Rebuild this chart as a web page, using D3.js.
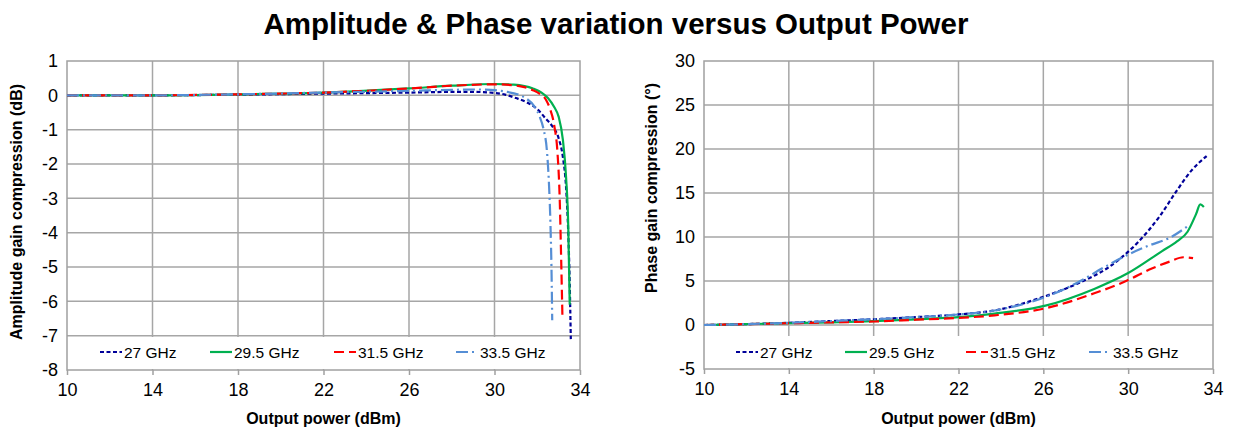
<!DOCTYPE html>
<html><head><meta charset="utf-8">
<script src="https://cdn.jsdelivr.net/npm/d3@7"></script>
<style>
body{margin:0;background:#fff;}
text{font-family:"Liberation Sans",Arial,sans-serif;}
</style></head>
<body><svg id="c" width="1233" height="430"></svg>
<script>
// ---------- data ----------
const title = "Amplitude & Phase variation versus Output Power";
const xTicks = [10,14,18,22,26,30,34];
const ampTicks = [1,0,-1,-2,-3,-4,-5,-6,-7,-8];
const phaseTicks = [30,25,20,15,10,5,0,-5];
const seriesNames = ["27 GHz","29.5 GHz","31.5 GHz","33.5 GHz"];

const amp27_x = [10,14,18,22,26,28,29,30,30.5,31,31.5,32,32.4,32.7,33,33.2,33.35,33.45,33.52,33.57];
const amp27_y = [0,0,0.02,0.05,0.08,0.1,0.1,0.07,0.02,-0.08,-0.2,-0.4,-0.68,-0.9,-1.25,-1.8,-2.7,-4,-5.5,-7.1];
const amp29_x = [10,14,18,22,26,28,30,30.9,31.8,32.2,32.5,32.8,33,33.2,33.35,33.45,33.52];
const amp29_y = [0,0,0.03,0.08,0.2,0.28,0.33,0.31,0.2,0.08,-0.08,-0.35,-0.62,-1.3,-2.4,-3.8,-6.1];
const amp31_x = [10,14,18,22,26,28,30,30.8,31.4,31.8,32.1,32.4,32.6,32.8,32.95,33.05,33.12,33.18];
const amp31_y = [0,0,0.03,0.08,0.2,0.28,0.32,0.3,0.24,0.15,0.05,-0.12,-0.4,-0.9,-1.7,-3,-4.8,-6.5];
const amp33_x = [10,14,18,22,26,28,29.3,30.6,31.5,31.9,32.1,32.3,32.45,32.55,32.62,32.67,32.7];
const amp33_y = [0,0,0.03,0.08,0.13,0.16,0.17,0.1,-0.1,-0.35,-0.6,-1.0,-1.6,-2.6,-3.8,-5.2,-6.55];

const ph27_x = [10,12,14,16,18,20,22,23.7,26,27.6,29.1,30.5,31.5,32.3,33,33.7];
const ph27_y = [0,0.1,0.25,0.45,0.65,0.9,1.2,1.65,3.2,4.7,6.6,9.5,12.4,15.3,17.6,19.2];
const ph29_x = [10,12,14,16,18,20,22,23.7,26.1,28.4,30,31.6,32.3,32.8,33.2,33.4,33.57];
const ph29_y = [0,0.1,0.2,0.3,0.45,0.65,0.9,1.3,2.2,4.1,5.9,8.4,9.5,10.6,12.6,13.7,13.4];
const ph31_x = [10,12,14,16,18,20,22,23.7,26.1,28.4,30,31,31.95,32.6,33.06];
const ph31_y = [0,0.1,0.2,0.3,0.4,0.6,0.8,1.1,1.9,3.6,5.1,6.3,7.2,7.7,7.6];
const ph33_x = [10,12,14,16,18,20,22,23.7,26,27.6,28.9,30,31,31.95,32.82];
const ph33_y = [0,0.1,0.25,0.45,0.65,0.9,1.2,1.65,3.1,4.8,6.6,8.0,9.05,9.9,11.25];

// ---------- styles ----------
const colors = ["#000099","#00B050","#FF0000","#558ED5"];
const dashes = ["4,2.5","none","10,5","12,4,2,4"];

const svg = d3.select("#c");
const FONT = "'Liberation Sans',Arial,sans-serif";

svg.append("text").attr("x",616).attr("y",34).attr("text-anchor","middle")
  .attr("font-size",29.5).attr("font-weight","bold").attr("fill","#000").text(title);

function zip(xs,ys){return xs.map((x,i)=>[x,ys[i]]);}

function panel(cfg){
  const x = d3.scaleLinear().domain([10,34]).range([cfg.l,cfg.r]);
  const y = d3.scaleLinear().domain(cfg.ydom).range([cfg.b,cfg.t]);
  const g = svg.append("g");
  // gridlines
  g.selectAll(".vg").data(xTicks.slice(1,-1)).join("line")
    .attr("x1",d=>x(d)).attr("x2",d=>x(d)).attr("y1",cfg.t).attr("y2",cfg.b)
    .attr("stroke","#a6a6a6").attr("stroke-width",1.5);
  g.selectAll(".hg").data(cfg.yticks.slice(1,-1)).join("line")
    .attr("x1",cfg.l).attr("x2",cfg.r).attr("y1",d=>y(d)).attr("y2",d=>y(d))
    .attr("stroke","#a6a6a6").attr("stroke-width",1.5);
  // legend background
  g.append("rect").attr("x",cfg.l+1).attr("y",cfg.legTop).attr("width",cfg.r-cfg.l-2)
    .attr("height",cfg.b-cfg.legTop-1).attr("fill","#fff");
  // axes
  const fmt = d=>String(d);
  const xa = g.append("g").attr("transform",`translate(0,${cfg.b})`)
    .call(d3.axisBottom(x).tickValues(xTicks).tickFormat(fmt).tickSize(5).tickSizeOuter(0).tickPadding(8));
  xa.select(".domain").remove();
  xa.selectAll("line").attr("stroke","#a0a0a0").attr("stroke-width",1.5);
  xa.selectAll("text").attr("font-size",18).attr("font-family",FONT).attr("fill","#000");
  const ya = g.append("g").attr("transform",`translate(${cfg.l},0)`)
    .call(d3.axisLeft(y).tickValues(cfg.yticks).tickFormat(fmt).tickSize(0).tickPadding(9));
  ya.select(".domain").remove();
  ya.selectAll("text").attr("font-size",18).attr("font-family",FONT).attr("fill","#000");
  // border
  g.append("rect").attr("x",cfg.l).attr("y",cfg.t).attr("width",cfg.r-cfg.l).attr("height",cfg.b-cfg.t)
    .attr("fill","none").attr("stroke","#a0a0a0").attr("stroke-width",1.5);
  // series
  const line = d3.line().x(d=>x(d[0])).y(d=>y(d[1])).curve(d3.curveMonotoneX);
  cfg.series.forEach((s,i)=>{
    g.append("path").datum(s).attr("d",line).attr("fill","none")
      .attr("stroke",colors[i]).attr("stroke-width",2.2)
      .attr("stroke-dasharray",dashes[i]==="none"?null:dashes[i]);
  });
  // legend
  cfg.legX.forEach((lx,i)=>{
    g.append("line").attr("x1",lx).attr("x2",lx+22).attr("y1",cfg.legY).attr("y2",cfg.legY)
      .attr("stroke",colors[i]).attr("stroke-width",2.2)
      .attr("stroke-dasharray",dashes[i]==="none"?null:dashes[i]);
    g.append("text").attr("x",lx+24).attr("y",cfg.legY+5.5).attr("font-size",15.5)
      .attr("fill","#000").text(seriesNames[i]);
  });
  // axis titles
  g.append("text").attr("x",(cfg.l+cfg.r)/2).attr("y",424).attr("text-anchor","middle")
    .attr("font-size",16).attr("font-weight","bold").text("Output power (dBm)");
  g.append("text").attr("transform",`translate(${cfg.ylabX},${cfg.ylabY}) rotate(-90)`)
    .attr("text-anchor","middle").attr("font-size",16).attr("font-weight","bold").text(cfg.ylabel);
}

panel({l:67,r:580,t:61,b:370,ydom:[-8,1],yticks:ampTicks,legTop:337,legY:352,
  legX:[100,210,334,456],ylabX:22,ylabY:212,ylabel:"Amplitude gain compression (dB)",
  series:[zip(amp27_x,amp27_y),zip(amp29_x,amp29_y),zip(amp31_x,amp31_y),zip(amp33_x,amp33_y)]});
panel({l:704,r:1213,t:61,b:369,ydom:[-5,30],yticks:phaseTicks,legTop:336,legY:352,
  legX:[736,845,966,1089],ylabX:657,ylabY:188,ylabel:"Phase gain compression (°)",
  series:[zip(ph27_x,ph27_y),zip(ph29_x,ph29_y),zip(ph31_x,ph31_y),zip(ph33_x,ph33_y)]});
</script></body></html>
